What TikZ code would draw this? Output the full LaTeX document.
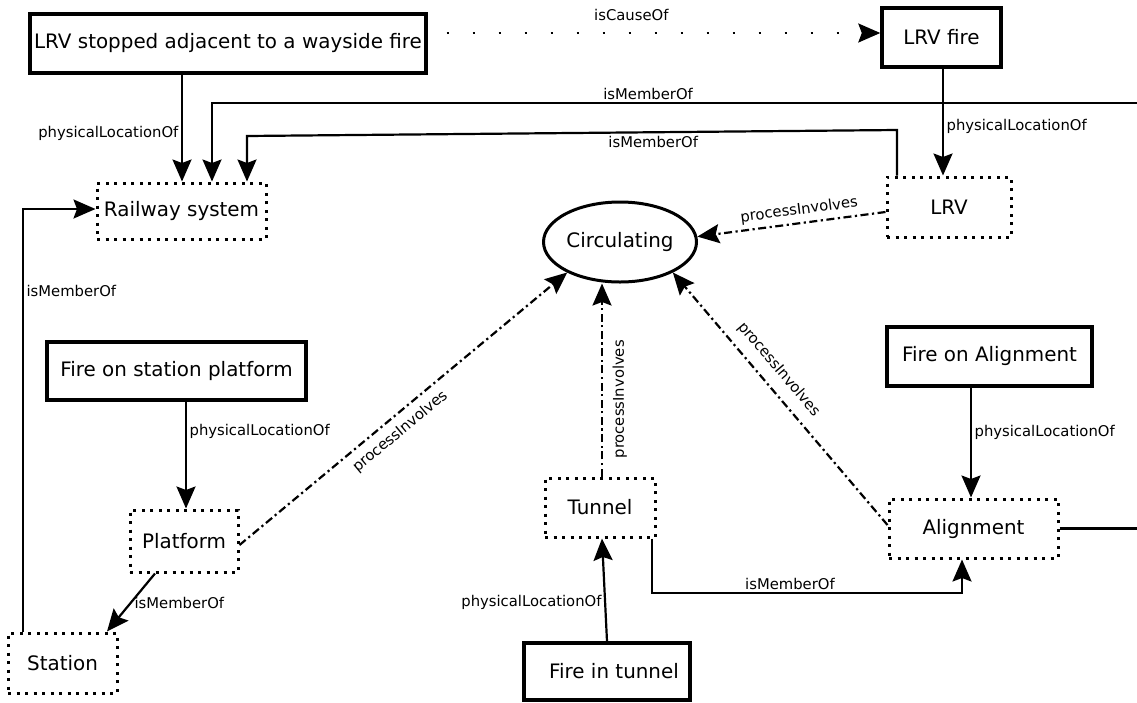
\documentclass[tikz,border=0pt]{standalone}
\usepackage{fontspec}
\setmainfont{DejaVu Sans}
\usetikzlibrary{arrows.meta,shapes.geometric}
\newcommand\diagnodefont{\fontsize{19.9}{22}\selectfont}
\newcommand\diaglblfont{\fontsize{14.8}{16}\selectfont}
\tikzset{
  solidbox/.style={draw, line width=3.4pt, inner sep=0pt, font=\diagnodefont},
  dotbox/.style={draw, line width=3pt, dash pattern=on 3pt off 5.5pt, inner sep=0pt, font=\diagnodefont},
  conn/.style={line width=2.2pt, -{Stealth[length=22pt,width=19pt,inset=3.5pt]}},
  dd/.style={conn, dash pattern=on 8pt off 3.5pt on 2.2pt off 3.5pt},
  causeline/.style={conn, line width=2pt, dash pattern=on 2pt off 24pt},
  lbl/.style={font=\diaglblfont, inner sep=2.5pt},
}
\begin{document}
\begin{tikzpicture}[x=1pt,y=-1pt]
\useasboundingbox (0,0) rectangle (1137,702);
\clip (0,0) rectangle (1137,702);
% nodes
\node[solidbox, minimum width=396pt, minimum height=59pt] (stopped) at (228,43.5) {LRV stopped adjacent to a wayside fire};
\node[solidbox, minimum width=119pt, minimum height=59pt] (lrvfire) at (941.5,37.5) {LRV fire};
\node[dotbox, minimum width=169pt, minimum height=56pt] (railway) at (181.5,211) {Railway system};
\node[dotbox, minimum width=124pt, minimum height=60pt] (lrv) at (949,207) {LRV};
\node[draw, ellipse, line width=3pt, inner sep=0pt, minimum width=153pt, minimum height=80pt, font=\diagnodefont] (circ) at (620,242) {Circulating};
\node[solidbox, minimum width=259pt, minimum height=58pt] (fsp) at (176.5,371) {Fire on station platform};
\node[dotbox, minimum width=108pt, minimum height=62pt] (platform) at (184,541) {Platform};
\node[dotbox, minimum width=109pt, minimum height=60pt] (station) at (62.5,663) {Station};
\node[dotbox, minimum width=110pt, minimum height=59pt] (tunnel) at (600,507.5) {Tunnel};
\node[solidbox, minimum width=166pt, minimum height=57pt] (fit) at (607,671.5) {\hspace*{14pt}Fire in tunnel};
\node[solidbox, minimum width=205pt, minimum height=59pt] (foa) at (989.5,356.5) {Fire on Alignment};
\node[dotbox, minimum width=169pt, minimum height=59pt] (align) at (973.5,528.5) {Alignment};
% connectors
\draw[causeline, shorten <=19pt] (stopped.east |- 0,33) -- node[lbl, above=9pt, pos=0.45]{isCauseOf} (lrvfire.west |- 0,33);
\draw[conn] (stopped.south -| 182,0) -- node[lbl, left, pos=0.55]{physicalLocationOf} (railway.north -| 182,0);
\draw[conn] (align.east) -- (1160,528.5) -- (1160,103) -- node[lbl, above, pos=0.54]{isMemberOf} (212,103) -- (railway.north -| 212,0);
\draw[conn] (lrv.north -| 897,0) -- (897,130) -- node[lbl, below, pos=0.375]{isMemberOf} (247,136) -- (railway.north -| 247,0);
\draw[conn] (lrvfire.south -| 943,0) -- node[lbl, right, pos=0.54]{physicalLocationOf} (lrv.north -| 943,0);
\draw[dd] (lrv.west |- 0,212) -- node[lbl, above=2pt, sloped, pos=0.45]{processInvolves} (circ.4);
\draw[dd] (platform.east |- 0,545) -- node[lbl, below=5pt, sloped, pos=0.46]{processInvolves} (circ.210);
\draw[dd] (tunnel.north -| 602,0) -- node[lbl, below=7pt, sloped, pos=0.4]{processInvolves} (circ.south -| 602,0);
\draw[dd] (align.west |- 0,525) -- node[lbl, above=7pt, sloped, pos=0.57]{processInvolves} (circ.-30);
\draw[conn] (fsp.south -| 186,0) -- node[lbl, right, pos=0.28]{physicalLocationOf} (platform.north -| 186,0);
\draw[conn] (platform.south -| 155,0) -- node[lbl, right, pos=0.5]{isMemberOf} (station.north -| 107,0);
\draw[conn] (station.north -| 23,0) -- node[lbl, right, pos=0.807]{isMemberOf} (23,209) -- (railway.west |- 0,209);
\draw[conn] (fit.north -| 607,0) -- node[lbl, left, pos=0.38]{physicalLocationOf} (tunnel.south -| 602,0);
\draw[conn] (tunnel.south -| 652,0) -- (652,593) -- node[lbl, above, pos=0.445]{isMemberOf} (962,593) -- (align.south -| 962,0);
\draw[conn] (foa.south -| 971,0) -- node[lbl, right, pos=0.41]{physicalLocationOf} (align.north -| 971,0);
\end{tikzpicture}
\end{document}
